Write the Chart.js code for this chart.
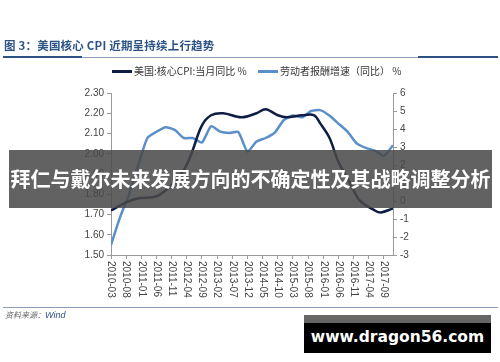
<!DOCTYPE html>
<html>
<head>
<meta charset="utf-8">
<script src="https://cdn.jsdelivr.net/npm/chart.js@4"></script>
<style>
  html, body { margin: 0; padding: 0; background: #fff; }
  #wrap { position: relative; width: 500px; height: 362px; overflow: hidden; font-family: "Noto Sans CJK SC", "Liberation Sans", sans-serif; }
  #c { position: absolute; left: 0; top: 0; }
  .abs { position: absolute; white-space: nowrap; }
  #title { left: 4px; top: 37px; font-size: 11.5px; font-weight: bold; color: #2d5385; letter-spacing: 0.2px; }
  .rule { position: absolute; height: 1px; background: #8aa0b8; }
  .rule-b { position: absolute; height: 2px; background: #2d5385; }
  .leg { top: 63px; font-size: 10px; color: #333; }
  .leg i { display: inline-block; width: 20px; height: 3px; vertical-align: middle; margin-right: 2px; margin-top: -2px; }
  #src { left: 5px; top: 309px; font-size: 8px; font-style: italic; color: #666; }
  #src b { font-weight: normal; color: #2d5385; font-family: "Liberation Sans", sans-serif; font-size: 9px; }
  #banner { left: 9px; top: 150px; width: 483px; height: 58px; background: rgba(72,72,72,0.86); color: #fff; font-size: 20px; font-weight: bold; line-height: 58px; text-align: center; }
  #wm { left: 304px; top: 315px; width: 187px; height: 38px; background: #000; color: #fff; font-family: "DejaVu Sans", sans-serif; font-weight: bold; font-size: 15.5px; text-align: center; line-height: 44px; }
  #wm span { position: absolute; left: 0; top: 0; width: 187px; height: 8px; background: #666; }
</style>
</head>
<body>
<div id="wrap">
  <canvas id="c" width="500" height="362"></canvas>
  <div id="title" class="abs">图 3：美国核心 CPI 近期呈持续上行趋势</div>
  <div class="rule" style="left:3px; top:57px; width:495px;"></div>
  <div class="rule-b" style="left:3px; top:56px; width:79px;"></div>
  <div class="rule-b" style="left:418px; top:56px; width:80px;"></div>
  <div class="abs leg" style="left:112px;"><i style="background:#0f1d45"></i>美国:核心CPI:当月同比 %</div>
  <div class="abs leg" style="left:258px;"><i style="background:#5b8fc9"></i>劳动者报酬增速（同比） %</div>
  <div class="rule" style="left:3px; top:307px; width:495px;"></div>
  <div id="src" class="abs">资料来源：<b>Wind</b></div>
  <div id="banner" class="abs">拜仁与戴尔未来发展方向的不确定性及其战略调整分析</div>
  <div id="wm" class="abs"><span></span>www.dragon56.com</div>
</div>
<script>
// tick labels on the month axis (every 5 months from 2010-03)
const xLabels = ['2010-03', '2010-08', '2011-01', '2011-06', '2011-11', '2012-04', '2012-09',
  '2013-02', '2013-07', '2013-12', '2014-05', '2014-10', '2015-03', '2015-08', '2016-01',
  '2016-06', '2016-11', '2017-04', '2017-09'];

// 美国:核心CPI:当月同比 (months since 2010-03, %)
const cpiMonths = [0, 5, 9, 15, 20, 24, 26, 27, 30, 33, 37, 43, 48, 51, 55, 58, 63, 67, 69, 72, 75, 79, 82, 87, 89, 93];
const cpiValues = [1.72, 1.76, 1.78, 1.79, 1.845, 1.92, 1.98, 2.02, 2.14, 2.19, 2.20, 2.18, 2.20, 2.22, 2.19, 2.18, 2.19, 2.19, 2.15, 2.08, 1.96, 1.85, 1.77, 1.72, 1.71, 1.73];

// 劳动者报酬增速（同比） (quarterly, months since 2010-03, %)
const wageMonths = [0, 3, 6, 9, 12, 15, 18, 21, 24, 27, 30, 33, 36, 39, 42, 45, 48, 51, 54, 57, 60, 63, 66, 69, 72, 75, 78, 81, 84, 87, 90, 93];
const wageValues = [-2.44, -0.9, 0.4, 2.0, 3.5, 3.85, 4.1, 3.95, 3.5, 3.5, 3.25, 4.15, 3.85, 3.78, 3.83, 2.75, 3.3, 3.5, 3.8, 4.5, 4.75, 4.65, 5.0, 5.05, 4.75, 4.3, 3.85, 3.2, 2.95, 2.8, 2.5, 3.1];

const toXY = (ms, vs) => ms.map((m, i) => ({ x: m, y: vs[i] }));
const axisGray = '#9a9a9a';
const tickFont = { family: 'Liberation Sans', size: 10 };

// x labels read top-to-bottom, so draw them here
const xLabelPlugin = {
  id: 'xLabelPlugin',
  afterDraw(chart) {
    const ctx = chart.ctx;
    const sx = chart.scales.x;
    ctx.save();
    ctx.font = '10px "Liberation Sans"';
    ctx.fillStyle = '#444';
    ctx.textAlign = 'left';
    ctx.textBaseline = 'middle';
    xLabels.forEach((lab, i) => {
      const px = sx.getPixelForValue(i * 5);
      ctx.save();
      ctx.translate(px, chart.chartArea.bottom + 6);
      ctx.rotate(Math.PI / 2);
      ctx.fillText(lab, 0, 0);
      ctx.restore();
    });
    ctx.restore();
  }
};

new Chart(document.getElementById('c'), {
  type: 'line',
  data: {
    datasets: [{
      label: '美国:核心CPI:当月同比 %',
      data: toXY(cpiMonths, cpiValues),
      yAxisID: 'y',
      borderColor: '#0f1d45',
      borderWidth: 2.5,
      pointRadius: 0,
      tension: 0.35
    }, {
      label: '劳动者报酬增速（同比） %',
      data: toXY(wageMonths, wageValues),
      yAxisID: 'y1',
      borderColor: '#5b8fc9',
      borderWidth: 2.5,
      pointRadius: 0,
      tension: 0.2
    }]
  },
  options: {
    responsive: false,
    animation: false,
    layout: { padding: { top: 93, left: 0, right: 0, bottom: 0 } },
    plugins: { legend: { display: false }, tooltip: { enabled: false } },
    scales: {
      x: {
        type: 'linear', min: 0, max: 93,
        ticks: { display: false, stepSize: 5, includeBounds: false },
        grid: { drawOnChartArea: false, color: axisGray, tickLength: 4 },
        border: { color: axisGray },
        afterFit: s => { s.height = 107; }
      },
      y: {
        position: 'left', min: 1.5, max: 2.3,
        ticks: { stepSize: 0.1, font: tickFont, color: '#444', padding: 3, callback: v => v.toFixed(2) },
        grid: { drawOnChartArea: false, color: axisGray, tickLength: 4 },
        border: { color: axisGray },
        afterFit: s => { s.width = 111; }
      },
      y1: {
        position: 'right', min: -3, max: 6,
        ticks: { stepSize: 1, font: tickFont, color: '#444', padding: 3 },
        grid: { drawOnChartArea: false, color: axisGray, tickLength: 4 },
        border: { color: axisGray },
        afterFit: s => { s.width = 107; }
      }
    }
  },
  plugins: [xLabelPlugin]
});
</script>
</body>
</html>
